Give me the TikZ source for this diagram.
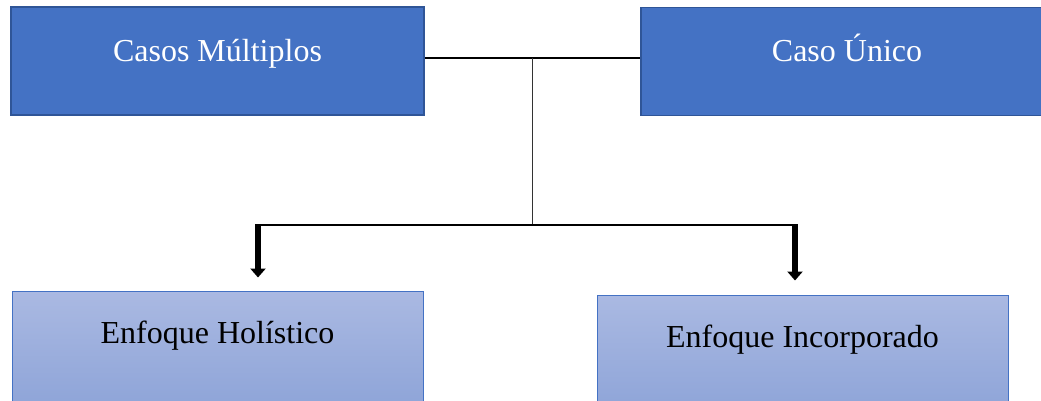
\documentclass[tikz,border=0pt]{standalone}
\usepackage{fontspec}
\setmainfont{Liberation Serif}
\usetikzlibrary{arrows.meta}
\definecolor{casofill}{HTML}{4472C4}
\definecolor{casoedge}{HTML}{2F5597}
\definecolor{enftop}{HTML}{AAB9E2}
\definecolor{enfbot}{HTML}{8BA2D7}
\tikzset{
  casobox/.style={draw=casoedge, line width=1.5pt, fill=casofill, text=white,
    minimum width=413pt, minimum height=108pt, inner sep=0pt,
    font=\fontsize{32}{38}\selectfont, text height=20pt, text depth=20pt},
  enfbox/.style={draw=casofill, line width=1pt, top color=enftop, bottom color=enfbot,
    minimum width=411pt, minimum height=129pt, inner sep=0pt,
    font=\fontsize{32}{38}\selectfont, text height=20pt, text depth=45pt},
  flecha/.style={line width=6pt, -{Triangle[width=15pt,length=9pt]}}
}

\begin{document}
\begin{tikzpicture}[x=1pt,y=-1pt]
  \useasboundingbox (0,0) rectangle (1041,400);
  \clip (0,0) rectangle (1041,400);
  % casos
  \node [casobox] (multi) at (217.5,61) {Casos Múltiplos};
  \node [casobox, minimum width=412pt] (unico) at (847,61.5) {Caso Único};
  % enfoques
  \node [enfbox] (holis) at (217.5,355.5) {Enfoque Holístico};
  \node [enfbox] (incorp) at (802.5,359.5) {Enfoque Incorporado};
  \coordinate (top) at (532,58);
  \coordinate (mid) at (532,226);
  \coordinate (l) at (258,225);
  \coordinate (r) at (795,225);
  \draw[line width=1.2pt] (multi.east |- top) -- (unico.west |- top);
  \draw[line width=1pt, black!80] (top) -- (mid);
  \draw[flecha] (l) -- ([yshift=13pt]holis.north -| l);
  \draw[flecha] (r) -- ([yshift=14pt]incorp.north -| r);
  \draw[line width=1.6pt] ([xshift=-3pt]l) -- ([xshift=3pt]r);
\end{tikzpicture}
\end{document}
